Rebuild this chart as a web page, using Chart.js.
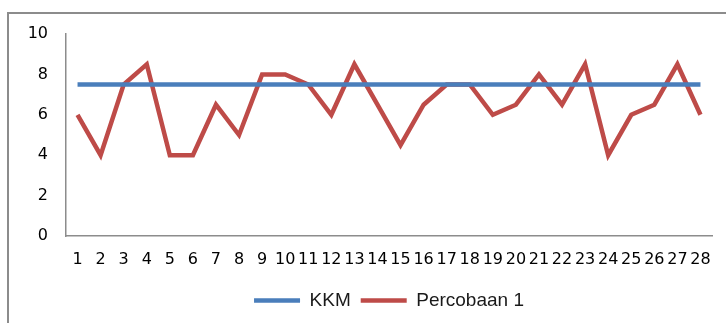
<!DOCTYPE html>
<html lang="id">
<head>
  <meta charset="UTF-8">
  <title>KKM vs Percobaan 1</title>
  <script src="https://cdn.jsdelivr.net/npm/chart.js"></script>
  <style>
    body {
      margin: 0;
      background: #fff;
      overflow: hidden;
    }
    #wrap {
      position: relative;
      width: 726px;
      height: 323px;
    }
    #frame {
      position: absolute;
      left: 7px;
      top: 12px;
      width: 800px;
      height: 400px;
      border: 2px solid #8c8c8c;
    }
    #chart {
      position: absolute;
      left: 0;
      top: 0;
    }
  </style>
</head>
<body>
  <div id="wrap">
    <div id="frame"></div>
    <canvas id="chart" width="726" height="323"></canvas>
  </div>

  <script>
    // data
    const labels = ["1","2","3","4","5","6","7","8","9","10","11","12","13","14",
                    "15","16","17","18","19","20","21","22","23","24","25","26","27","28"];
    const kkm = [7.5,7.5,7.5,7.5,7.5,7.5,7.5,7.5,7.5,7.5,7.5,7.5,7.5,7.5,
                 7.5,7.5,7.5,7.5,7.5,7.5,7.5,7.5,7.5,7.5,7.5,7.5,7.5,7.5];
    const percobaan1 = [6,4,7.5,8.5,4,4,6.5,5,8,8,7.5,6,8.5,6.5,
                        4.5,6.5,7.5,7.5,6,6.5,8,6.5,8.5,4,6,6.5,8.5,6];
    const yTicks = [0, 2, 4, 6, 8, 10];

    const tickFont = { family: "'DejaVu Sans', sans-serif", size: 16 };
    const legendFont = { family: "'Liberation Sans', Arial, sans-serif", size: 19 };

    new Chart(document.getElementById("chart").getContext("2d"), {
      type: "line",
      data: {
        labels: labels,
        datasets: [
          {
            label: "KKM",
            data: kkm,
            borderColor: "#4a7ebb",
            backgroundColor: "#4a7ebb",
            borderWidth: 4.5,
            pointRadius: 0,
            tension: 0
          },
          {
            label: "Percobaan 1",
            data: percobaan1,
            borderColor: "#be4b48",
            backgroundColor: "#be4b48",
            borderWidth: 4.5,
            borderJoinStyle: "miter",
            pointRadius: 0,
            tension: 0
          }
        ]
      },
      options: {
        responsive: false,
        animation: false,
        layout: {
          padding: { left: 0, right: 14, top: 34, bottom: 3 }
        },
        plugins: {
          tooltip: { enabled: false },
          legend: {
            position: "bottom",
            fullSize: false,
            labels: {
              font: legendFont,
              color: "#1a1a1a",
              usePointStyle: true,
              pointStyle: "line",
              pointStyleWidth: 46,
              padding: 10
            }
          }
        },
        scales: {
          x: {
            offset: true,
            grid: { display: true, color: "transparent", drawTicks: false },
            border: { display: true, color: "#8c8c8c", width: 1.5 },
            ticks: {
              font: tickFont,
              color: "#000",
              padding: 14,
              autoSkip: false,
              maxRotation: 0
            },
            afterFit: (s) => { s.height = 45; }
          },
          y: {
            min: 0,
            max: 10,
            afterBuildTicks: (s) => { s.ticks = yTicks.map(v => ({ value: v })); },
            grid: { display: true, color: "transparent", drawTicks: false },
            border: { display: true, color: "#8c8c8c", width: 1.5 },
            ticks: {
              font: tickFont,
              color: "#000",
              padding: 18
            },
            afterFit: (s) => { s.width = 66; }
          }
        }
      }
    });
  </script>
</body>
</html>
